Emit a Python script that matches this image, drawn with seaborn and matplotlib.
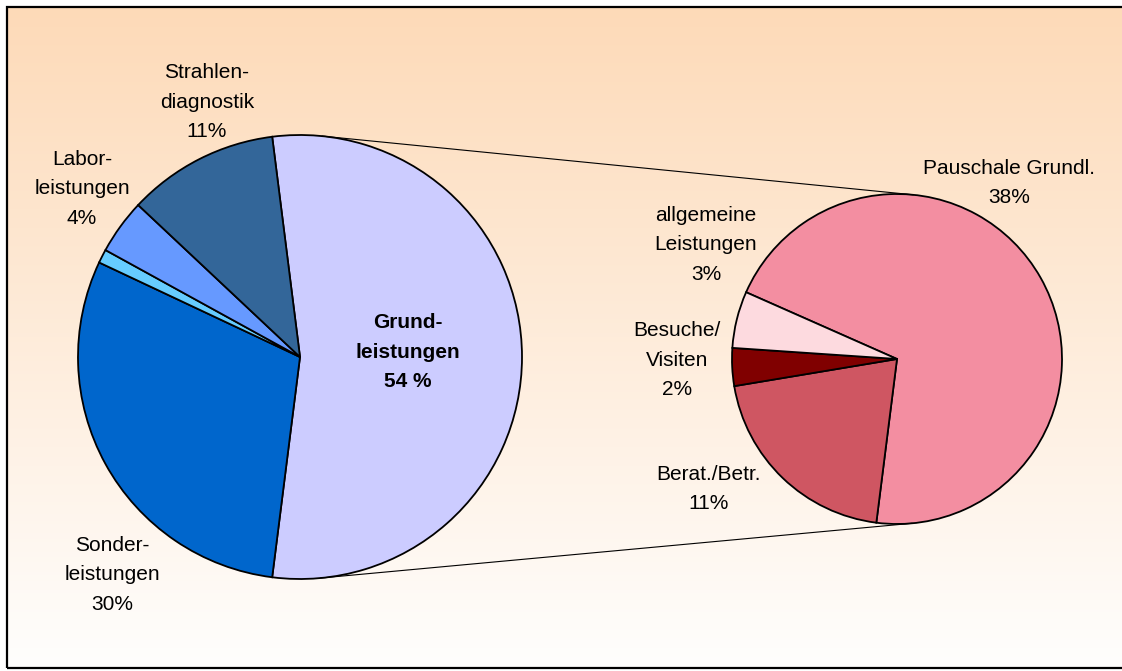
import numpy as np
import pandas as pd
import seaborn as sns
import matplotlib
matplotlib.use("Agg")
import matplotlib.pyplot as plt
from matplotlib.patches import Rectangle
from matplotlib.colors import to_rgb

# ---------------- data ----------------
main_names = ["Grund-\nleistungen", "Sonder-\nleistungen", "", "Labor-\nleistungen", "Strahlen-\ndiagnostik"]
main_values = [54, 30, 1, 4, 11]
sub_names = ["Pauschale Grundl.", "Berat./Betr.", "Besuche/\nVisiten", "allgemeine\nLeistungen"]
sub_values = [38, 11, 2, 3]

# ---------------- styles / layout ----------------
main_colors = ["#CCCCFF", "#0066CC", "#66CCFF", "#6699FF", "#336699"]
sub_colors = ["#F38EA1", "#CF5662", "#800000", "#FDDADF"]

W, H = 1122, 671
main_center, main_radius = (300, H - 357), 222
sub_center, sub_radius = (897, H - 359), 165
# label anchor points (pixel coords, image y measured from top)
main_label_pos = [(408, 352), (112, 575), None, (82, 189), (207, 102)]
sub_label_pos = [(1009, 183), (709, 489), (677, 360), (706, 245)]

sns.set_theme(style="white")
plt.rcParams["font.family"] = ["Liberation Sans", "DejaVu Sans"]

fig = plt.figure(figsize=(W / 100, H / 100), dpi=100)
fig.patch.set_facecolor("white")
ax = fig.add_axes([0, 0, 1, 1])

# background gradient inside the chart frame
top_c = np.array(to_rgb("#FDDAB8"))
bot_c = np.array(to_rgb("#FFFEFD"))
t = np.linspace(0, 1, 256)[:, None]
grad = (top_c[None, :] * (1 - t) + bot_c[None, :] * t)[:, None, :]
ax.imshow(grad, extent=(7, W + 5, 3, H - 7), aspect="auto", zorder=0, origin="upper")

wp = dict(edgecolor="black", linewidth=1.3)

main_total = sum(main_values)
main_start = main_values[0] / main_total * 360 / 2
ax.pie(main_values, colors=main_colors, startangle=main_start, counterclock=False,
       center=main_center, radius=main_radius, wedgeprops=wp, frame=True)

sub_total = sum(sub_values)
sub_start = -main_start + sub_values[0] / sub_total * 360
ax.pie(sub_values, colors=sub_colors, startangle=sub_start, counterclock=False,
       center=sub_center, radius=sub_radius, wedgeprops=wp, frame=True)

# connector lines: external common tangents of both pies
c1 = np.array(main_center, float)
c2 = np.array(sub_center, float)
d = c2 - c1
dist = np.hypot(*d)
u = d / dist
perp = np.array([-u[1], u[0]])
a = (main_radius - sub_radius) / dist
b = np.sqrt(1 - a * a)
for sgn in (1, -1):
    n = a * u + sgn * b * perp
    p1 = c1 + main_radius * n
    p2 = c2 + sub_radius * n
    ax.plot([p1[0], p2[0]], [p1[1], p2[1]], color="black", lw=0.8, zorder=1)

fs = 15
ls = 1.72
for name, val, pos in zip(main_names, main_values, main_label_pos):
    if pos is None:
        continue
    if name.startswith("Grund"):
        txt = f"{name}\n{val} %"
        weight = "bold"
    else:
        txt = f"{name}\n{val}%"
        weight = "normal"
    ax.text(pos[0], H - pos[1], txt, ha="center", va="center", fontsize=fs,
            fontweight=weight, linespacing=ls, color="black", zorder=5)

for name, val, pos in zip(sub_names, sub_values, sub_label_pos):
    ax.text(pos[0], H - pos[1], f"{name}\n{val}%", ha="center", va="center",
            fontsize=fs, linespacing=ls, color="black", zorder=5)

# chart frame
ax.add_patch(Rectangle((7, 3), W, H - 10, fill=False, edgecolor="black", lw=1.6, zorder=6))

ax.set_xlim(0, W)
ax.set_ylim(0, H)
ax.set_aspect("equal")
ax.axis("off")

fig.savefig("out.png", dpi=100, facecolor="white")
